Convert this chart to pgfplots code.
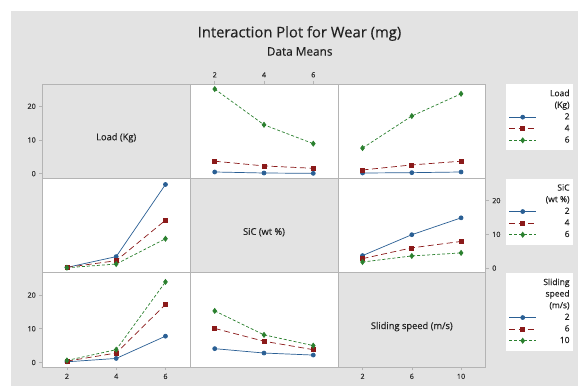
\documentclass[border=0pt]{standalone}
\usepackage{pgfplots}
\pgfplotsset{compat=1.18}
\usepackage{fontspec}
\setmainfont{Open Sans}[FakeBold=0.3]
\definecolor{bg}{HTML}{E3E3E3}
\definecolor{frame}{HTML}{B4B4B4}
\definecolor{mblue}{HTML}{2A5F94}
\definecolor{mred}{HTML}{8B1A1A}
\definecolor{mgreen}{HTML}{2A802E}
\definecolor{ticktext}{HTML}{2E2E2E}
\definecolor{titletext}{HTML}{222222}

\tikzset{lab/.style={font=\fontsize{9.3}{11}\selectfont, text=titletext}}
\pgfplotsset{
  panel/.style={
    scale only axis, width=147.8pt, height=94.4pt,
    anchor=north west,
    ymin=-1.4, ymax=26.6,
    axis line style={frame, line width=0.7pt},
    tick style={frame, line width=0.6pt},
    major tick length=3pt,
    tick align=outside,
    tick label style={font=\fontsize{7.2}{8}\selectfont, text=ticktext},
    /pgf/number format/assume math mode=true,
    xtick=\empty, ytick=\empty,
    axis background/.style={fill=white},
    clip=false,
  },
  loadx/.style={xmin=1,xmax=7},
  sicx/.style={xmin=1,xmax=7},
  speedx/.style={xmin=0,xmax=12},
  diag/.style={axis background/.style={fill=bg}},
  s1/.style={mblue, solid, line width=0.7pt, mark=*, mark size=2pt, mark options={solid}},
  s2/.style={mred, dash pattern=on 6pt off 3.5pt, line width=0.7pt, mark=square*, mark size=2pt, mark options={solid}},
  s3/.style={mgreen, dash pattern=on 3pt off 2pt, line width=0.7pt, mark=diamond*, mark size=2.5pt, mark options={solid}},
  leg/.style={
    legend style={at={(axis description cs:1.135,1)}, anchor=north west, draw=none, fill=white,
      font=\fontsize{8.5}{9}\selectfont, text=titletext, inner xsep=3pt, inner ysep=5.5pt, row sep=3.1pt,
      column sep=2pt,
      nodes={inner sep=0pt, text height=6.5pt, text depth=2pt}},
    legend cell align=right,
    legend image code/.code={\draw[mark repeat=2,mark phase=2,##1] plot coordinates {(0pt,0pt) (13.5pt,0pt) (27pt,0pt)};},
  },
}
\newcommand{\lgent}[1]{\makebox[31pt][r]{#1}\hspace{5pt}}

\begin{document}
\begin{tikzpicture}
\path (0pt,0pt) rectangle (578pt,386pt);
\fill[bg] (11pt,0pt) rectangle (578pt,375pt);
\node[font=\fontsize{14.8}{17}\selectfont, text=titletext] at (299.5pt,352.5pt) {Interaction Plot for Wear (mg)};
\node[font=\fontsize{11.8}{14}\selectfont, text=titletext] at (299.7pt,334.5pt) {Data Means};

% Row 1
\begin{axis}[panel, diag, loadx, at={(42.3pt,302pt)}, ytick={0,10,20}, ytick pos=left, yticklabel pos=left]
\addplot[draw=none] coordinates {(2,0)};
\node[lab] at (axis description cs:0.5,0.43) {Load (Kg)};
\end{axis}
\begin{axis}[panel, sicx, at={(190.1pt,302pt)}, xtick={2,4,6}, xtick pos=upper, xticklabel pos=upper]
\addplot[s1] coordinates {(2,0.5) (4,0.2) (6,0.1)};
\addplot[s2] coordinates {(2,3.7) (4,2.3) (6,1.6)};
\addplot[s3] coordinates {(2,25.1) (4,14.5) (6,8.9)};
\end{axis}
\begin{axis}[panel, speedx, leg, at={(337.9pt,302pt)}]
\addlegendimage{empty legend}\addlegendentry{\lgent{Load}}
\addlegendimage{empty legend}\addlegendentry{\lgent{(Kg)}}
\addplot[s1] coordinates {(2,0.2) (6,0.3) (10,0.5)};\addlegendentry{\lgent{2}}
\addplot[s2] coordinates {(2,1.1) (6,2.6) (10,3.7)};\addlegendentry{\lgent{4}}
\addplot[s3] coordinates {(2,7.6) (6,17.1) (10,23.7)};\addlegendentry{\lgent{6}}
\end{axis}

% Row 2
\begin{axis}[panel, loadx, at={(42.3pt,207.6pt)}]
\addplot[s1] coordinates {(2,0.2) (4,3.4) (6,24.8)};
\addplot[s2] coordinates {(2,0.2) (4,2.2) (6,14.2)};
\addplot[s3] coordinates {(2,0.1) (4,1.2) (6,8.7)};
\end{axis}
\begin{axis}[panel, diag, sicx, at={(190.1pt,207.6pt)}]
\addplot[draw=none] coordinates {(2,0)};
\node[lab] at (axis description cs:0.5,0.43) {SiC (wt \%)};
\end{axis}
\begin{axis}[panel, speedx, leg, at={(337.9pt,207.6pt)}, ytick={0,10,20}, ytick pos=upper, yticklabel pos=upper]
\addlegendimage{empty legend}\addlegendentry{\lgent{SiC}}
\addlegendimage{empty legend}\addlegendentry{\lgent{(wt \%)}}
\addplot[s1] coordinates {(2,3.7) (6,9.9) (10,14.9)};\addlegendentry{\lgent{2}}
\addplot[s2] coordinates {(2,2.8) (6,6.0) (10,7.9)};\addlegendentry{\lgent{4}}
\addplot[s3] coordinates {(2,1.8) (6,3.6) (10,4.5)};\addlegendentry{\lgent{6}}
\end{axis}

% Row 3
\begin{axis}[panel, loadx, at={(42.3pt,113.2pt)}, xtick={2,4,6}, xtick pos=lower, xticklabel pos=lower, ytick={0,10,20}, ytick pos=left, yticklabel pos=left]
\addplot[s1] coordinates {(2,0.2) (4,1.2) (6,7.8)};
\addplot[s2] coordinates {(2,0.4) (4,2.8) (6,17.2)};
\addplot[s3] coordinates {(2,0.6) (4,3.8) (6,23.9)};
\end{axis}
\begin{axis}[panel, sicx, at={(190.1pt,113.2pt)}]
\addplot[s1] coordinates {(2,4.1) (4,2.8) (6,2.2)};
\addplot[s2] coordinates {(2,10.1) (4,6.3) (6,3.8)};
\addplot[s3] coordinates {(2,15.3) (4,8.2) (6,5.0)};
\end{axis}
\begin{axis}[panel, diag, speedx, leg, at={(337.9pt,113.2pt)}, xtick={2,6,10}, xtick pos=lower, xticklabel pos=lower]
\addlegendimage{empty legend}\addlegendentry{\lgent{Sliding}}
\addlegendimage{empty legend}\addlegendentry{\lgent{speed}}
\addlegendimage{empty legend}\addlegendentry{\lgent{(m/s)}}
\addlegendimage{s1}\addlegendentry{\lgent{2}}
\addlegendimage{s2}\addlegendentry{\lgent{6}}
\addlegendimage{s3}\addlegendentry{\lgent{10}}
\addplot[draw=none] coordinates {(2,0)};
\node[lab] at (axis description cs:0.5,0.43) {Sliding speed (m/s)};
\end{axis}
\end{tikzpicture}
\end{document}
